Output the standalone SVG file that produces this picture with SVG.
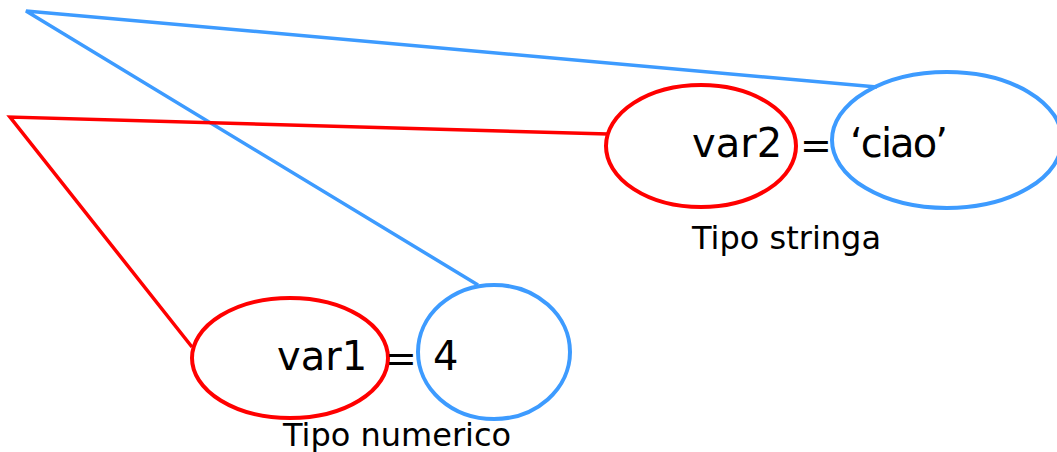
<svg xmlns="http://www.w3.org/2000/svg" width="1057" height="452" viewBox="0 0 1057 452">
<style>
.red{fill:none;stroke:#FF0000;stroke-width:4}
.blue{fill:none;stroke:#3D9BFF;stroke-width:4}
.lr{fill:none;stroke:#FF0000;stroke-width:3.5}
.lb{fill:none;stroke:#3D9BFF;stroke-width:3.5}
.big{font-family:"DejaVu Sans",sans-serif;font-size:40px;fill:#000}
.eq{font-family:"DejaVu Sans",sans-serif;font-size:38px;fill:#000;text-anchor:middle}
.lbl{font-family:"DejaVu Sans",sans-serif;font-size:32px;fill:#000}
</style>
<rect width="1057" height="452" fill="#fff"/>
<g id="connectors">
<polyline class="lb" points="877,87 26,11 478,285"/>
<polyline class="lr" points="608,134 10,117 192,347"/>
</g>
<g id="label-stringa"><text class="lbl" x="692" y="249">Tipo stringa</text></g>
<g id="label-numerico"><text class="lbl" x="283" y="446">Tipo numerico</text></g>
<g id="var2">
<ellipse class="red" cx="701" cy="146" rx="95" ry="61"/>
<text class="big" x="692" y="157">var2</text>
</g>
<g id="eq2"><text class="eq" x="816" y="158">=</text></g>
<g id="val2">
<ellipse class="blue" cx="947" cy="140" rx="115" ry="68"/>
<text class="big" x="850" y="157" textLength="98">‘ciao’</text>
</g>
<g id="var1">
<ellipse class="red" cx="290" cy="358" rx="98" ry="60"/>
<text class="big" x="277" y="370">var1</text>
</g>
<g id="eq1"><text class="eq" x="401" y="371">=</text></g>
<g id="val1">
<ellipse class="blue" cx="494" cy="352" rx="76" ry="67"/>
<text class="big" x="433" y="370">4</text>
</g>
</svg>
